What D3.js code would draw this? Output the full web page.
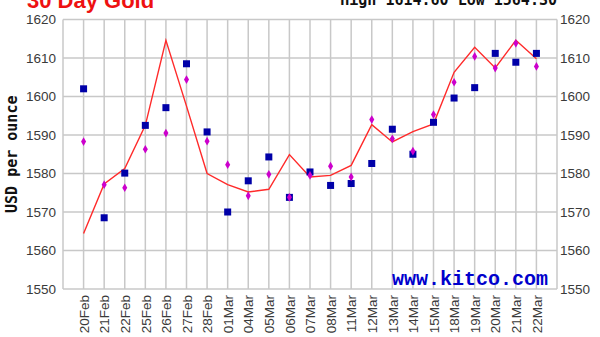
<!DOCTYPE html>
<html><head><meta charset="utf-8">
<script src="https://cdn.jsdelivr.net/npm/d3@7"></script>
<style>body{margin:0;background:#fff}svg{display:block}</style>
</head><body>
<script>
const categories = ["20Feb","21Feb","22Feb","25Feb","26Feb","27Feb","28Feb","01Mar","04Mar","05Mar","06Mar","07Mar","08Mar","11Mar","12Mar","13Mar","14Mar","15Mar","18Mar","19Mar","20Mar","21Mar","22Mar"];
const lineValues = [1564.4,1577.3,1581.3,1592.5,1614.6,1597.5,1580.0,1577.1,1575.2,1575.9,1584.9,1579.1,1579.5,1582.1,1592.7,1588.2,1590.9,1592.9,1606.3,1612.8,1607.4,1614.6,1609.8];
const squareValues = [1602.0,1568.5,1580.1,1592.5,1597.1,1608.5,1590.8,1570.0,1578.1,1584.3,1573.8,1580.4,1576.9,1577.4,1582.6,1591.5,1585.0,1593.3,1599.6,1602.3,1611.2,1608.9,1611.2];
const diamondValues = [1588.3,1577.1,1576.3,1586.3,1590.5,1604.4,1588.4,1582.3,1574.2,1579.8,1573.8,1579.5,1581.9,1579.1,1594.0,1589.0,1585.8,1595.3,1603.7,1610.4,1607.4,1613.8,1607.8];
const yTicks = [1550,1560,1570,1580,1590,1600,1610,1620];
const title = "30 Day Gold";
const subtitle = "High 1614.60 Low 1564.30";
const yTitle = "USD per ounce";
const credit = "www.kitco.com";

const W = 600, H = 337;
const L = 63, R = 557, T = 19.5, B = 289;
const svg = d3.select("body").append("svg").attr("width", W).attr("height", H);

const x = d3.scalePoint().domain(categories).range([L, R]).padding(1);
const y = d3.scaleLinear().domain([1550, 1620]).range([B, T]);

// grid
const grid = svg.append("g").attr("stroke", "#c8c8c8").attr("stroke-width", 1.5);
grid.selectAll("line.h").data(yTicks).join("line").attr("class","h")
  .attr("x1", L).attr("x2", R).attr("y1", d => y(d)).attr("y2", d => y(d));
grid.selectAll("line.v").data(categories).join("line").attr("class","v")
  .attr("x1", d => x(d)).attr("x2", d => x(d)).attr("y1", T).attr("y2", B);
grid.append("line").attr("x1", L).attr("x2", L).attr("y1", T).attr("y2", B);
grid.append("line").attr("x1", R).attr("x2", R).attr("y1", T).attr("y2", B);

// axes
const axL = svg.append("g").attr("transform", `translate(${L},0)`)
  .call(d3.axisLeft(y).tickValues(yTicks).tickSize(0).tickPadding(7).tickFormat(d3.format("d")));
const axR = svg.append("g").attr("transform", `translate(${R},0)`)
  .call(d3.axisRight(y).tickValues(yTicks).tickSize(0).tickPadding(3).tickFormat(d3.format("d")));
[axL, axR].forEach(a => {
  a.select(".domain").remove();
  a.selectAll("text").attr("font-family", "'Liberation Sans', Arial, sans-serif").attr("font-size", 13.5).attr("fill", "#3a3a3a");
});
const axB = svg.append("g").attr("transform", `translate(0,${B})`)
  .call(d3.axisBottom(x).tickSize(0).tickPadding(0));
axB.select(".domain").remove();
axB.selectAll("text")
  .attr("font-family", "'Liberation Sans', Arial, sans-serif").attr("font-size", 13.5).attr("fill", "#3a3a3a")
  .attr("transform", "rotate(-90)").attr("text-anchor", "end")
  .attr("x", -6).attr("y", 0).attr("dy", "0.35em");

// credit
svg.append("text").attr("x", 548).attr("y", 285).attr("text-anchor", "end")
  .attr("font-family", "'Liberation Mono', 'Courier New', monospace").attr("font-weight", "bold")
  .attr("font-size", 20).attr("fill", "#0000cc").text(credit);

// line
svg.append("path").datum(lineValues)
  .attr("fill", "none").attr("stroke", "#ff2a2a").attr("stroke-width", 1.4)
  .attr("d", d3.line().x((d, i) => x(categories[i])).y(d => y(d)));

// squares
svg.append("g").selectAll("rect").data(squareValues).join("rect")
  .attr("x", (d, i) => x(categories[i]) - 3.5).attr("y", d => y(d) - 3.5)
  .attr("width", 7).attr("height", 7).attr("fill", "#0000a8");

// diamonds
const dsym = d3.symbol().type(d3.symbolDiamond).size(22);
svg.append("g").selectAll("path").data(diamondValues).join("path")
  .attr("transform", (d, i) => `translate(${x(categories[i])},${y(d)})`)
  .attr("d", dsym).attr("fill", "#cc00cc");

// titles
svg.append("text").attr("x", 27).attr("y", 8)
  .attr("font-family", "'Liberation Sans', Arial, sans-serif").attr("font-weight", "bold")
  .attr("font-size", 22).attr("fill", "#ee1111").text(title);
svg.append("text").attr("x", 557).attr("y", 5).attr("text-anchor", "end")
  .attr("font-family", "'DejaVu Sans Mono', monospace").attr("font-weight", "bold")
  .attr("font-size", 15).attr("fill", "#111").text(subtitle);
svg.append("text").attr("transform", `translate(17,${(T + B) / 2}) rotate(-90)`)
  .attr("text-anchor", "middle")
  .attr("font-family", "'DejaVu Sans Mono', monospace").attr("font-weight", "bold")
  .attr("font-size", 15).attr("fill", "#111").text(yTitle);
</script>
</body></html>
